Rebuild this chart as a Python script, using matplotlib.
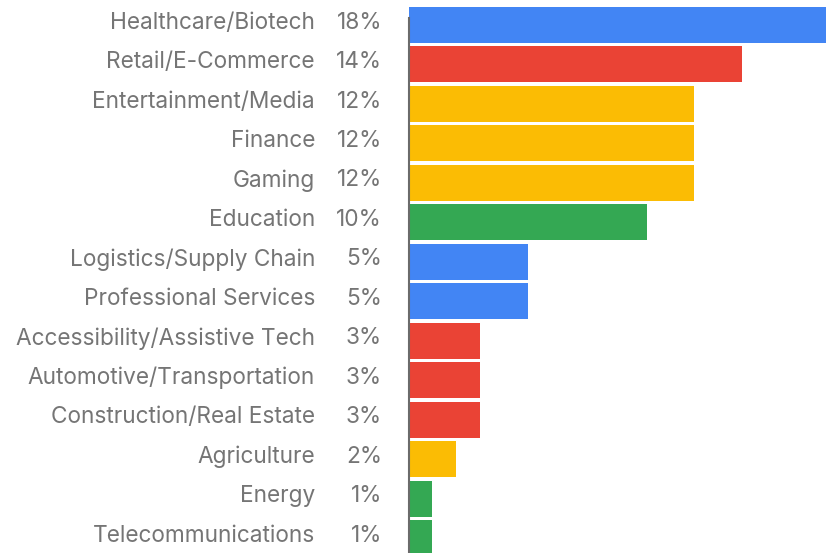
import matplotlib.pyplot as plt
import matplotlib.transforms as mtransforms

categories = ["Healthcare/Biotech", "Retail/E-Commerce", "Entertainment/Media",
              "Finance", "Gaming", "Education", "Logistics/Supply Chain",
              "Professional Services", "Accessibility/Assistive Tech",
              "Automotive/Transportation", "Construction/Real Estate",
              "Agriculture", "Energy", "Telecommunications"]
values = [18, 14, 12, 12, 12, 10, 5, 5, 3, 3, 3, 2, 1, 1]
pct_labels = ["18%", "14%", "12%", "12%", "12%", "10%", "5%", "5%",
              "3%", "3%", "3%", "2%", "1%", "1%"]

blue, red, yellow, green = "#4285F4", "#EA4335", "#FBBC04", "#34A853"
colors = [blue, red, yellow, yellow, yellow, green, blue, blue,
          red, red, red, yellow, green, green]

W, H = 826, 553
fig = plt.figure(figsize=(W / 100, H / 100), dpi=100)
x0 = 408.7 / W
ax = fig.add_axes([x0, 0, 1 - x0, 1])

pitch = 39.46
ypos = list(range(len(values)))
ax.barh(ypos, values, height=36 / pitch, color=colors)
ax.set_xlim(0, (W - 408.7) / 23.78)
ax.set_ylim((H - 25) / pitch, -25 / pitch)

for s in ["top", "right", "bottom"]:
    ax.spines[s].set_visible(False)
ax.spines["left"].set_color("#6b6b6b")
ax.spines["left"].set_linewidth(1.5)
ax.spines["left"].set_bounds(-7 / pitch, (H - 25) / pitch)
ax.set_xticks([])
ax.set_yticks([])

tr = mtransforms.blended_transform_factory(fig.transFigure, ax.transData)
txt = dict(family="Inter", fontsize=16.3, color="#757575",
           va="center", ha="right")
for y, cat, lab in zip(ypos, categories, pct_labels):
    ax.text(315 / W, y - 0.06, cat, transform=tr, **txt)
    ax.text(382 / W, y - 0.06, lab, transform=tr, **txt)

fig.savefig("out.png", dpi=100)
